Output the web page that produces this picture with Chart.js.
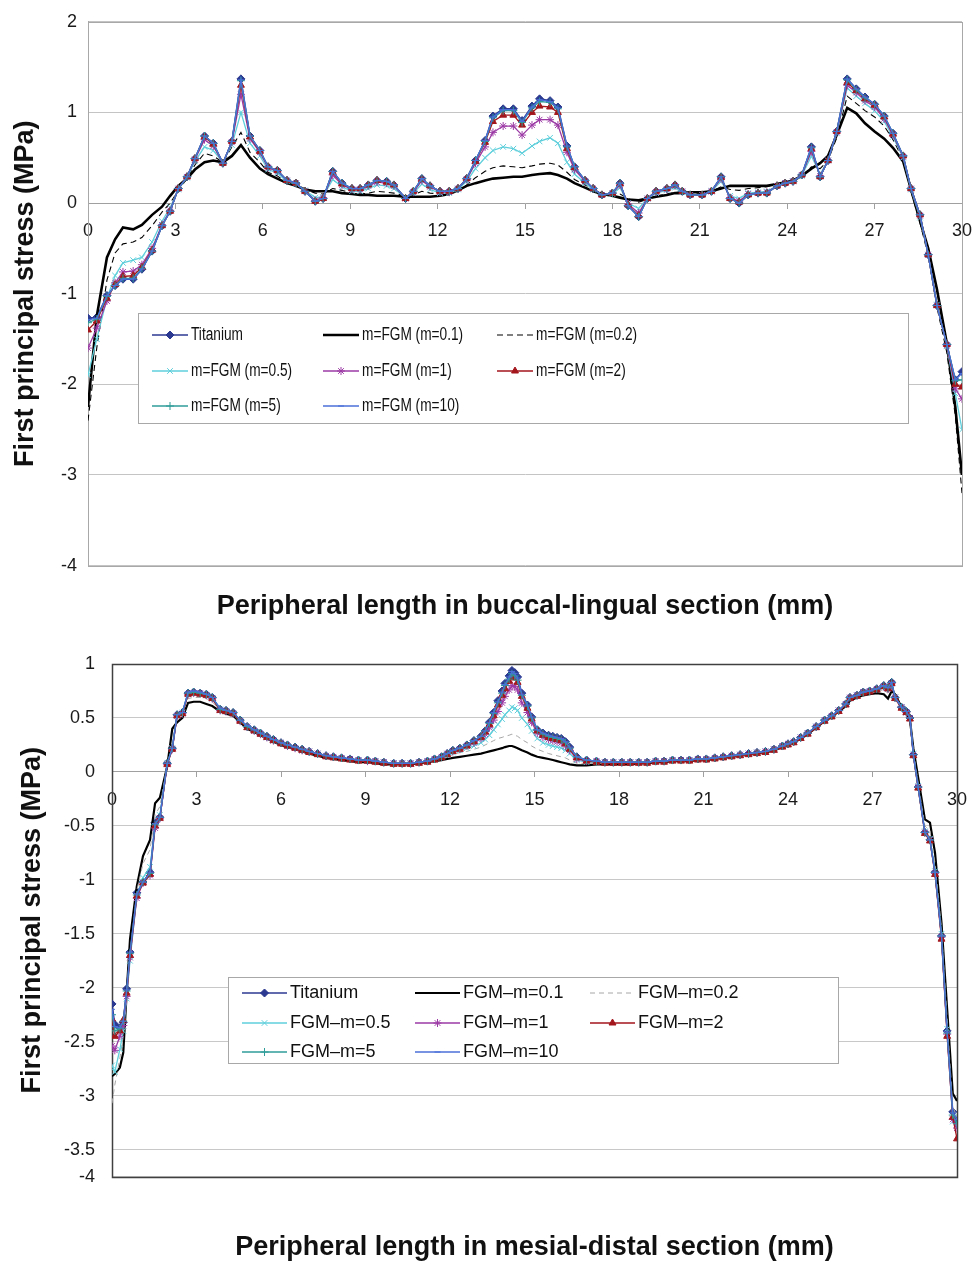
<!DOCTYPE html>
<html>
<head>
<meta charset="utf-8">
<script src="https://cdn.jsdelivr.net/npm/chart.js@4"></script>
<style>
  html, body { margin: 0; padding: 0; background: #fff; }
  canvas { display: block; }
</style>
</head>
<body>
<canvas id="topChart" width="976" height="630"></canvas>
<canvas id="bottomChart" width="976" height="635"></canvas>
<script>
'use strict';

// ---- Buccal-lingual section (top chart) ----
var TOP_NAMES = ['Titanium', 'm=FGM (m=0.1)', 'm=FGM (m=0.2)', 'm=FGM (m=0.5)',
  'm=FGM (m=1)', 'm=FGM (m=2)', 'm=FGM (m=5)', 'm=FGM (m=10)'];

var TOP_X = [
  0, 0.3, 0.65, 0.93, 1.2, 1.55, 1.85, 2.2, 2.54, 2.82,
  3.1, 3.4, 3.67, 4.0, 4.3, 4.63, 4.94, 5.25, 5.56, 5.9,
  6.18, 6.5, 6.83, 7.14, 7.45, 7.8, 8.07, 8.4, 8.72, 9.06,
  9.34, 9.62, 9.92, 10.25, 10.5, 10.9, 11.17, 11.46, 11.74, 12.08,
  12.4, 12.7, 13.0, 13.3, 13.63, 13.9, 14.25, 14.6, 14.9, 15.24,
  15.5, 15.86, 16.13, 16.44, 16.7, 17.06, 17.34, 17.64, 18.0, 18.26,
  18.54, 18.9, 19.2, 19.5, 19.87, 20.15, 20.4, 20.67, 21.08, 21.4,
  21.73, 22.04, 22.35, 22.66, 23.0, 23.3, 23.65, 23.93, 24.2, 24.5,
  24.83, 25.13, 25.4, 25.7, 26.06, 26.37, 26.67, 27.0, 27.33, 27.63,
  27.98, 28.25, 28.56, 28.84, 29.14, 29.48, 29.77, 30.0
];

var TOP_TI = [
  -1.27, -1.26, -1.02, -0.91, -0.84, -0.84, -0.73, -0.53, -0.25, -0.09,
  0.16, 0.29, 0.49, 0.74, 0.66, 0.44, 0.68, 1.37, 0.74, 0.58,
  0.40, 0.36, 0.25, 0.22, 0.13, 0.02, 0.05, 0.35, 0.22, 0.16,
  0.16, 0.20, 0.25, 0.24, 0.20, 0.05, 0.13, 0.27, 0.19, 0.13,
  0.13, 0.16, 0.27, 0.47, 0.69, 0.96, 1.04, 1.04, 0.91, 1.07,
  1.15, 1.13, 1.06, 0.63, 0.40, 0.25, 0.16, 0.09, 0.11, 0.22,
  -0.03, -0.15, 0.05, 0.13, 0.16, 0.20, 0.13, 0.09, 0.09, 0.13,
  0.29, 0.05, 0.00, 0.09, 0.11, 0.11, 0.19, 0.22, 0.24, 0.31,
  0.62, 0.29, 0.47, 0.79, 1.37, 1.26, 1.17, 1.09, 0.96, 0.77,
  0.52, 0.16, -0.13, -0.57, -1.13, -1.56, -1.95, -1.86
];
var TOP_M01 = [
  -2.25, -1.25, -0.60, -0.40, -0.27, -0.29, -0.24, -0.13, -0.04, 0.08,
  0.19, 0.27, 0.37, 0.45, 0.47, 0.45, 0.52, 0.64, 0.50, 0.38,
  0.32, 0.27, 0.22, 0.19, 0.15, 0.13, 0.13, 0.13, 0.11, 0.10,
  0.09, 0.09, 0.08, 0.08, 0.08, 0.07, 0.07, 0.07, 0.07, 0.08,
  0.10, 0.14, 0.19, 0.22, 0.25, 0.27, 0.28, 0.29, 0.29, 0.31,
  0.32, 0.33, 0.31, 0.27, 0.22, 0.17, 0.13, 0.10, 0.08, 0.06,
  0.04, 0.03, 0.05, 0.07, 0.09, 0.11, 0.11, 0.12, 0.12, 0.13,
  0.16, 0.19, 0.19, 0.19, 0.19, 0.19, 0.21, 0.23, 0.25, 0.30,
  0.38, 0.44, 0.52, 0.75, 1.05, 0.99, 0.88, 0.79, 0.71, 0.61,
  0.46, 0.15, -0.20, -0.50, -0.95, -1.55, -2.25, -3.00
];
var TOP_M02 = [
  -2.40, -1.60, -0.85, -0.55, -0.45, -0.43, -0.38, -0.25, -0.10, 0.00,
  0.14, 0.27, 0.42, 0.55, 0.52, 0.45, 0.62, 0.78, 0.56, 0.45,
  0.34, 0.30, 0.22, 0.19, 0.15, 0.11, 0.10, 0.16, 0.14, 0.11,
  0.10, 0.11, 0.13, 0.12, 0.11, 0.08, 0.09, 0.13, 0.11, 0.10,
  0.10, 0.13, 0.20, 0.28, 0.35, 0.39, 0.41, 0.40, 0.39, 0.41,
  0.43, 0.44, 0.42, 0.34, 0.26, 0.20, 0.15, 0.11, 0.09, 0.10,
  0.05, 0.01, 0.04, 0.08, 0.10, 0.12, 0.12, 0.11, 0.11, 0.13,
  0.18, 0.15, 0.14, 0.16, 0.17, 0.18, 0.21, 0.23, 0.25, 0.29,
  0.40, 0.38, 0.47, 0.72, 1.18, 1.10, 1.02, 0.95, 0.85, 0.70,
  0.48, 0.13, -0.22, -0.58, -1.15, -1.65, -2.35, -3.20
];
var TOP_M05 = [
  -1.90, -1.50, -1.05, -0.80, -0.66, -0.63, -0.60, -0.43, -0.20, -0.05,
  0.15, 0.28, 0.46, 0.62, 0.58, 0.45, 0.64, 1.00, 0.66, 0.52,
  0.37, 0.33, 0.24, 0.21, 0.14, 0.06, 0.07, 0.26, 0.18, 0.13,
  0.13, 0.16, 0.20, 0.19, 0.16, 0.06, 0.11, 0.21, 0.15, 0.11,
  0.11, 0.15, 0.24, 0.38, 0.50, 0.58, 0.62, 0.60, 0.55, 0.63,
  0.68, 0.72, 0.66, 0.45, 0.32, 0.22, 0.15, 0.09, 0.10, 0.17,
  0.00, -0.06, 0.05, 0.11, 0.14, 0.17, 0.12, 0.09, 0.09, 0.13,
  0.24, 0.08, 0.05, 0.11, 0.12, 0.13, 0.19, 0.22, 0.24, 0.30,
  0.52, 0.32, 0.47, 0.77, 1.27, 1.18, 1.10, 1.02, 0.90, 0.73,
  0.50, 0.15, -0.16, -0.57, -1.12, -1.58, -2.10, -2.50
];
var TOP_M1 = [
  -1.60, -1.38, -1.08, -0.88, -0.76, -0.75, -0.68, -0.50, -0.24, -0.08,
  0.16, 0.29, 0.48, 0.70, 0.63, 0.44, 0.67, 1.20, 0.71, 0.56,
  0.39, 0.35, 0.25, 0.22, 0.13, 0.03, 0.06, 0.31, 0.20, 0.15,
  0.15, 0.19, 0.23, 0.22, 0.19, 0.05, 0.12, 0.25, 0.18, 0.12,
  0.12, 0.16, 0.26, 0.44, 0.62, 0.78, 0.85, 0.85, 0.75, 0.86,
  0.92, 0.92, 0.86, 0.56, 0.37, 0.24, 0.16, 0.09, 0.11, 0.20,
  -0.01, -0.11, 0.05, 0.12, 0.15, 0.19, 0.13, 0.09, 0.09, 0.13,
  0.27, 0.06, 0.02, 0.10, 0.11, 0.12, 0.19, 0.22, 0.24, 0.31,
  0.57, 0.30, 0.47, 0.78, 1.30, 1.22, 1.13, 1.06, 0.93, 0.75,
  0.51, 0.16, -0.14, -0.57, -1.13, -1.57, -2.05, -2.16
];
var TOP_M2 = [
  -1.40, -1.30, -1.05, -0.90, -0.81, -0.80, -0.71, -0.52, -0.25, -0.09,
  0.16, 0.29, 0.49, 0.73, 0.65, 0.44, 0.68, 1.30, 0.73, 0.57,
  0.40, 0.36, 0.25, 0.22, 0.13, 0.02, 0.05, 0.34, 0.21, 0.16,
  0.16, 0.20, 0.25, 0.23, 0.20, 0.05, 0.13, 0.26, 0.19, 0.13,
  0.13, 0.16, 0.27, 0.46, 0.67, 0.90, 0.97, 0.97, 0.86, 1.00,
  1.07, 1.06, 1.00, 0.60, 0.39, 0.25, 0.16, 0.09, 0.11, 0.21,
  -0.02, -0.14, 0.05, 0.13, 0.16, 0.20, 0.13, 0.09, 0.09, 0.13,
  0.28, 0.05, 0.01, 0.09, 0.11, 0.11, 0.19, 0.22, 0.24, 0.31,
  0.60, 0.29, 0.47, 0.79, 1.33, 1.24, 1.15, 1.08, 0.95, 0.76,
  0.52, 0.16, -0.13, -0.57, -1.13, -1.56, -2.00, -2.03
];
var TOP_M5 = [
  -1.32, -1.28, -1.03, -0.91, -0.83, -0.83, -0.72, -0.53, -0.25, -0.09,
  0.16, 0.29, 0.49, 0.74, 0.66, 0.44, 0.68, 1.35, 0.74, 0.58,
  0.40, 0.36, 0.25, 0.22, 0.13, 0.02, 0.05, 0.35, 0.22, 0.16,
  0.16, 0.20, 0.25, 0.24, 0.20, 0.05, 0.13, 0.27, 0.19, 0.13,
  0.13, 0.16, 0.27, 0.47, 0.68, 0.94, 1.02, 1.02, 0.89, 1.05,
  1.12, 1.11, 1.04, 0.62, 0.40, 0.25, 0.16, 0.09, 0.11, 0.22,
  -0.03, -0.15, 0.05, 0.13, 0.16, 0.20, 0.13, 0.09, 0.09, 0.13,
  0.29, 0.05, 0.00, 0.09, 0.11, 0.11, 0.19, 0.22, 0.24, 0.31,
  0.61, 0.29, 0.47, 0.79, 1.36, 1.25, 1.16, 1.09, 0.96, 0.77,
  0.52, 0.16, -0.13, -0.57, -1.13, -1.56, -1.96, -1.95
];
var TOP_M10 = [
  -1.29, -1.27, -1.02, -0.91, -0.84, -0.84, -0.73, -0.53, -0.25, -0.09,
  0.16, 0.29, 0.49, 0.74, 0.66, 0.44, 0.68, 1.36, 0.74, 0.58,
  0.40, 0.36, 0.25, 0.22, 0.13, 0.02, 0.05, 0.35, 0.22, 0.16,
  0.16, 0.20, 0.25, 0.24, 0.20, 0.05, 0.13, 0.27, 0.19, 0.13,
  0.13, 0.16, 0.27, 0.47, 0.69, 0.95, 1.03, 1.03, 0.90, 1.06,
  1.14, 1.12, 1.05, 0.63, 0.40, 0.25, 0.16, 0.09, 0.11, 0.22,
  -0.03, -0.15, 0.05, 0.13, 0.16, 0.20, 0.13, 0.09, 0.09, 0.13,
  0.29, 0.05, 0.00, 0.09, 0.11, 0.11, 0.19, 0.22, 0.24, 0.31,
  0.62, 0.29, 0.47, 0.79, 1.37, 1.26, 1.17, 1.09, 0.96, 0.77,
  0.52, 0.16, -0.13, -0.57, -1.13, -1.56, -1.95, -1.88
];

// ---- Mesial-distal section (bottom chart) ----
var BOT_NAMES = ['Titanium', 'FGM\u2013m=0.1', 'FGM\u2013m=0.2', 'FGM\u2013m=0.5',
  'FGM\u2013m=1', 'FGM\u2013m=2', 'FGM\u2013m=5', 'FGM\u2013m=10'];

var BOT_X = [
  0, 0.1, 0.28, 0.4, 0.52, 0.64, 0.88, 1.1, 1.35, 1.53,
  1.7, 1.96, 2.14, 2.31, 2.5, 2.7, 2.9, 3.13, 3.35, 3.56,
  3.84, 4.05, 4.3, 4.55, 4.8, 5.05, 5.27, 5.5, 5.73, 6.0,
  6.23, 6.5, 6.75, 7.0, 7.3, 7.6, 7.86, 8.15, 8.45, 8.75,
  9.07, 9.35, 9.65, 10.0, 10.3, 10.6, 10.9, 11.2, 11.45, 11.7,
  11.9, 12.1, 12.35, 12.6, 12.85, 13.1, 13.25, 13.4, 13.55, 13.7,
  13.85, 13.95, 14.1, 14.2, 14.3, 14.4, 14.55, 14.75, 14.9, 15.1,
  15.3, 15.5, 15.65, 15.8, 15.95, 16.1, 16.25, 16.5, 16.85, 17.2,
  17.5, 17.8, 18.1, 18.4, 18.7, 19.0, 19.3, 19.6, 19.9, 20.2,
  20.5, 20.8, 21.1, 21.4, 21.7, 22.0, 22.3, 22.6, 22.9, 23.2,
  23.5, 23.8, 24.0, 24.2, 24.45, 24.7, 25.0, 25.3, 25.55, 25.8,
  26.05, 26.2, 26.45, 26.67, 26.9, 27.15, 27.4, 27.55, 27.68, 27.8,
  28.03, 28.2, 28.33, 28.45, 28.62, 28.86, 29.04, 29.22, 29.45, 29.65,
  29.85, 30.0
];

var BOT_TI = [
  -2.15, -2.34, -2.37, -2.32, -2.01, -1.67, -1.12, -1.02, -0.93, -0.47,
  -0.42, 0.08, 0.22, 0.53, 0.55, 0.73, 0.74, 0.73, 0.72, 0.69,
  0.58, 0.57, 0.55, 0.48, 0.42, 0.39, 0.36, 0.33, 0.30, 0.27,
  0.25, 0.23, 0.21, 0.19, 0.17, 0.15, 0.14, 0.13, 0.12, 0.11,
  0.11, 0.10, 0.09, 0.08, 0.08, 0.08, 0.09, 0.10, 0.12, 0.14,
  0.17, 0.20, 0.22, 0.25, 0.29, 0.33, 0.38, 0.46, 0.55, 0.66,
  0.75, 0.82, 0.89, 0.94, 0.92, 0.88, 0.73, 0.62, 0.51, 0.39,
  0.36, 0.34, 0.33, 0.32, 0.31, 0.28, 0.23, 0.14, 0.11, 0.10,
  0.09, 0.09, 0.09, 0.09, 0.09, 0.09, 0.10, 0.10, 0.11, 0.11,
  0.11, 0.12, 0.12, 0.13, 0.14, 0.15, 0.16, 0.17, 0.18, 0.19,
  0.21, 0.24, 0.26, 0.28, 0.32, 0.36, 0.42, 0.48, 0.52, 0.57,
  0.63, 0.69, 0.71, 0.74, 0.75, 0.77, 0.80, 0.78, 0.83, 0.69,
  0.60, 0.56, 0.50, 0.16, -0.14, -0.56, -0.63, -0.93, -1.52, -2.40,
  -3.15, -3.23
];
var BOT_M01 = [
  -2.82, -2.80, -2.74, -2.60, -2.05, -1.55, -1.06, -0.78, -0.63, -0.29,
  -0.24, 0.05, 0.40, 0.46, 0.50, 0.64, 0.65, 0.65, 0.63, 0.61,
  0.56, 0.54, 0.52, 0.46, 0.40, 0.37, 0.34, 0.31, 0.28, 0.25,
  0.23, 0.21, 0.19, 0.17, 0.15, 0.13, 0.12, 0.11, 0.10, 0.09,
  0.09, 0.08, 0.07, 0.07, 0.07, 0.07, 0.08, 0.09, 0.10, 0.11,
  0.12, 0.13, 0.14, 0.15, 0.16, 0.17, 0.18, 0.19, 0.20, 0.21,
  0.22, 0.23, 0.24, 0.24, 0.23, 0.22, 0.20, 0.18, 0.16, 0.14,
  0.13, 0.12, 0.11, 0.10, 0.09, 0.08, 0.07, 0.06, 0.06, 0.07,
  0.07, 0.07, 0.07, 0.07, 0.08, 0.08, 0.09, 0.09, 0.10, 0.10,
  0.10, 0.11, 0.11, 0.12, 0.13, 0.14, 0.15, 0.16, 0.17, 0.18,
  0.20, 0.23, 0.25, 0.27, 0.31, 0.35, 0.41, 0.47, 0.51, 0.56,
  0.61, 0.66, 0.69, 0.71, 0.72, 0.73, 0.72, 0.68, 0.75, 0.72,
  0.60, 0.54, 0.48, 0.22, -0.05, -0.44, -0.47, -0.75, -1.40, -2.20,
  -2.98, -3.05
];
var BOT_M02 = [
  -3.07, -2.90, -2.65, -2.45, -2.10, -1.70, -1.10, -0.85, -0.72, -0.40,
  -0.32, 0.06, 0.25, 0.50, 0.55, 0.68, 0.69, 0.69, 0.68, 0.65,
  0.57, 0.55, 0.53, 0.47, 0.41, 0.38, 0.35, 0.32, 0.29, 0.26,
  0.24, 0.22, 0.20, 0.18, 0.16, 0.14, 0.13, 0.12, 0.11, 0.10,
  0.10, 0.09, 0.08, 0.08, 0.08, 0.08, 0.09, 0.10, 0.11, 0.12,
  0.14, 0.16, 0.18, 0.19, 0.21, 0.23, 0.25, 0.27, 0.29, 0.31,
  0.32, 0.33, 0.34, 0.35, 0.34, 0.33, 0.30, 0.27, 0.24, 0.21,
  0.19, 0.17, 0.16, 0.15, 0.14, 0.13, 0.11, 0.08, 0.08, 0.08,
  0.08, 0.08, 0.08, 0.08, 0.08, 0.08, 0.09, 0.09, 0.10, 0.10,
  0.10, 0.11, 0.11, 0.12, 0.13, 0.14, 0.15, 0.16, 0.17, 0.18,
  0.20, 0.23, 0.25, 0.27, 0.31, 0.35, 0.41, 0.47, 0.51, 0.56,
  0.62, 0.67, 0.70, 0.72, 0.73, 0.75, 0.76, 0.73, 0.79, 0.71,
  0.60, 0.55, 0.49, 0.19, -0.10, -0.50, -0.55, -0.85, -1.45, -2.30,
  -3.10, -3.20
];
var BOT_M05 = [
  -2.72, -2.78, -2.57, -2.40, -2.10, -1.75, -1.15, -0.98, -0.88, -0.50,
  -0.40, 0.08, 0.22, 0.52, 0.55, 0.72, 0.73, 0.72, 0.71, 0.68,
  0.58, 0.56, 0.54, 0.48, 0.42, 0.38, 0.35, 0.32, 0.29, 0.27,
  0.24, 0.22, 0.20, 0.19, 0.17, 0.15, 0.14, 0.13, 0.12, 0.11,
  0.10, 0.10, 0.09, 0.08, 0.08, 0.08, 0.09, 0.10, 0.11, 0.13,
  0.16, 0.18, 0.20, 0.22, 0.24, 0.27, 0.30, 0.34, 0.39, 0.44,
  0.49, 0.53, 0.57, 0.60, 0.59, 0.57, 0.50, 0.44, 0.38, 0.31,
  0.27, 0.25, 0.24, 0.23, 0.22, 0.20, 0.17, 0.11, 0.09, 0.09,
  0.09, 0.09, 0.09, 0.09, 0.09, 0.09, 0.10, 0.10, 0.11, 0.11,
  0.11, 0.12, 0.12, 0.13, 0.14, 0.15, 0.16, 0.17, 0.18, 0.19,
  0.21, 0.24, 0.26, 0.28, 0.32, 0.36, 0.42, 0.47, 0.52, 0.57,
  0.63, 0.68, 0.71, 0.74, 0.75, 0.77, 0.79, 0.77, 0.82, 0.69,
  0.60, 0.55, 0.50, 0.17, -0.13, -0.55, -0.62, -0.92, -1.50, -2.38,
  -3.24, -3.30
];
var BOT_M1 = [
  -2.54, -2.58, -2.45, -2.35, -2.08, -1.72, -1.17, -1.03, -0.96, -0.52,
  -0.43, 0.07, 0.21, 0.52, 0.54, 0.72, 0.73, 0.73, 0.71, 0.68,
  0.57, 0.56, 0.54, 0.47, 0.42, 0.38, 0.35, 0.32, 0.29, 0.27,
  0.24, 0.22, 0.20, 0.19, 0.17, 0.15, 0.14, 0.13, 0.12, 0.11,
  0.10, 0.10, 0.09, 0.08, 0.08, 0.08, 0.09, 0.10, 0.12, 0.14,
  0.17, 0.19, 0.21, 0.24, 0.27, 0.31, 0.35, 0.41, 0.48, 0.56,
  0.64, 0.70, 0.76, 0.80, 0.79, 0.76, 0.64, 0.55, 0.46, 0.36,
  0.32, 0.30, 0.29, 0.28, 0.27, 0.24, 0.20, 0.12, 0.10, 0.10,
  0.09, 0.09, 0.09, 0.09, 0.09, 0.09, 0.10, 0.10, 0.11, 0.11,
  0.11, 0.12, 0.12, 0.13, 0.14, 0.15, 0.16, 0.17, 0.18, 0.19,
  0.21, 0.24, 0.26, 0.28, 0.32, 0.36, 0.42, 0.48, 0.52, 0.57,
  0.63, 0.69, 0.71, 0.74, 0.75, 0.77, 0.79, 0.77, 0.82, 0.69,
  0.60, 0.55, 0.50, 0.16, -0.14, -0.56, -0.63, -0.94, -1.53, -2.43,
  -3.22, -3.30
];
var BOT_M2 = [
  -2.29, -2.45, -2.40, -2.30, -2.05, -1.70, -1.15, -1.03, -0.95, -0.50,
  -0.43, 0.07, 0.21, 0.52, 0.54, 0.72, 0.73, 0.72, 0.71, 0.68,
  0.57, 0.56, 0.54, 0.47, 0.41, 0.38, 0.35, 0.32, 0.29, 0.26,
  0.24, 0.22, 0.20, 0.18, 0.16, 0.14, 0.13, 0.12, 0.11, 0.10,
  0.10, 0.09, 0.08, 0.07, 0.07, 0.07, 0.08, 0.09, 0.11, 0.13,
  0.16, 0.19, 0.21, 0.24, 0.28, 0.32, 0.37, 0.44, 0.52, 0.62,
  0.71, 0.77, 0.84, 0.88, 0.87, 0.83, 0.70, 0.59, 0.49, 0.38,
  0.34, 0.32, 0.31, 0.30, 0.29, 0.26, 0.21, 0.13, 0.10, 0.09,
  0.08, 0.08, 0.08, 0.08, 0.08, 0.08, 0.09, 0.09, 0.10, 0.10,
  0.10, 0.11, 0.11, 0.12, 0.13, 0.14, 0.15, 0.16, 0.17, 0.18,
  0.20, 0.23, 0.25, 0.27, 0.31, 0.35, 0.41, 0.47, 0.51, 0.56,
  0.62, 0.68, 0.70, 0.73, 0.74, 0.76, 0.79, 0.77, 0.82, 0.68,
  0.59, 0.55, 0.49, 0.15, -0.15, -0.57, -0.64, -0.95, -1.55, -2.45,
  -3.20, -3.40
];
var BOT_M5 = [
  -2.25, -2.40, -2.38, -2.31, -2.03, -1.68, -1.14, -1.02, -0.94, -0.49,
  -0.42, 0.08, 0.22, 0.53, 0.55, 0.73, 0.74, 0.73, 0.72, 0.69,
  0.58, 0.57, 0.55, 0.48, 0.42, 0.39, 0.36, 0.33, 0.30, 0.27,
  0.25, 0.23, 0.21, 0.19, 0.17, 0.15, 0.14, 0.13, 0.12, 0.11,
  0.11, 0.10, 0.09, 0.08, 0.08, 0.08, 0.09, 0.10, 0.12, 0.14,
  0.17, 0.20, 0.22, 0.25, 0.29, 0.33, 0.38, 0.45, 0.54, 0.64,
  0.73, 0.80, 0.86, 0.91, 0.89, 0.85, 0.71, 0.61, 0.50, 0.39,
  0.35, 0.33, 0.32, 0.31, 0.30, 0.27, 0.22, 0.14, 0.11, 0.10,
  0.09, 0.09, 0.09, 0.09, 0.09, 0.09, 0.10, 0.10, 0.11, 0.11,
  0.11, 0.12, 0.12, 0.13, 0.14, 0.15, 0.16, 0.17, 0.18, 0.19,
  0.21, 0.24, 0.26, 0.28, 0.32, 0.36, 0.42, 0.48, 0.52, 0.57,
  0.63, 0.69, 0.71, 0.74, 0.75, 0.77, 0.80, 0.78, 0.83, 0.69,
  0.60, 0.56, 0.50, 0.16, -0.14, -0.56, -0.63, -0.93, -1.52, -2.42,
  -3.18, -3.26
];
var BOT_M10 = [
  -2.20, -2.36, -2.37, -2.31, -2.02, -1.67, -1.13, -1.02, -0.93, -0.48,
  -0.42, 0.08, 0.22, 0.53, 0.55, 0.74, 0.75, 0.74, 0.72, 0.69,
  0.59, 0.57, 0.55, 0.48, 0.43, 0.39, 0.36, 0.33, 0.30, 0.27,
  0.25, 0.23, 0.21, 0.19, 0.17, 0.15, 0.14, 0.13, 0.12, 0.11,
  0.11, 0.10, 0.09, 0.08, 0.08, 0.08, 0.09, 0.10, 0.12, 0.14,
  0.17, 0.20, 0.22, 0.25, 0.29, 0.33, 0.38, 0.46, 0.55, 0.65,
  0.74, 0.81, 0.88, 0.93, 0.91, 0.87, 0.72, 0.62, 0.51, 0.39,
  0.36, 0.34, 0.33, 0.32, 0.31, 0.28, 0.23, 0.14, 0.11, 0.10,
  0.09, 0.09, 0.09, 0.09, 0.09, 0.09, 0.10, 0.10, 0.11, 0.11,
  0.11, 0.12, 0.12, 0.13, 0.14, 0.15, 0.16, 0.17, 0.18, 0.19,
  0.21, 0.24, 0.26, 0.28, 0.32, 0.36, 0.42, 0.48, 0.52, 0.57,
  0.63, 0.69, 0.71, 0.74, 0.75, 0.77, 0.80, 0.78, 0.83, 0.69,
  0.60, 0.56, 0.50, 0.16, -0.14, -0.56, -0.63, -0.93, -1.52, -2.41,
  -3.16, -3.22
];

// y ticks of the lower chart; its plot area stops at -3.75, where the picture prints "-4"
var BOT_Y_TICKS = [1, 0.5, 0, -0.5, -1, -1.5, -2, -2.5, -3, -3.5, -3.75];

var FONT = '"Liberation Sans", Arial, Helvetica, sans-serif';
Chart.defaults.font.family = FONT;

// Line / marker looks, Excel 2003 style
var STYLES = [
  {color: '#2B3990', width: 1.5, point: 'rectRot', radius: 4},
  {color: '#000000', width: 2.6, point: false, radius: 0},
  {color: '#000000', width: 1.1, dash: [6, 4], point: false, radius: 0},
  {color: '#5FCFDB', width: 1.3, point: 'crossRot', radius: 4},
  {color: '#9C3AA5', width: 1.3, point: 'star', radius: 4},
  {color: '#A3161C', width: 1.3, point: 'triangle', radius: 4},
  {color: '#2E9C98', width: 1.3, point: 'cross', radius: 4},
  {color: '#4A6FD8', width: 1.3, point: 'line', radius: 3}
];

var buildDatasets = function(names, xs, series, styles) {
  return series.map(function(ys, i) {
    var st = styles[i];
    return {
      label: names[i],
      data: xs.map(function(x, k) { return {x: x, y: ys[k]}; }),
      borderColor: st.color,
      backgroundColor: st.color,
      pointBackgroundColor: st.color,
      pointBorderColor: st.color,
      borderWidth: st.width,
      borderDash: st.dash || [],
      pointStyle: st.point,
      pointRadius: st.radius,
      pointBorderWidth: 1,
      tension: 0,
      fill: false,
      // last series on top, as in Excel
      order: series.length - i
    };
  });
};

// Grey or dark frame round the plot area
var plotFrame = {
  id: 'plotFrame',
  beforeDatasetsDraw: function(chart, args, o) {
    var a = chart.chartArea, ctx = chart.ctx;
    ctx.save();
    ctx.strokeStyle = o.color;
    ctx.lineWidth = o.width;
    ctx.strokeRect(Math.round(a.left) + 0.5, Math.round(a.top) + 0.5,
      Math.round(a.right - a.left), Math.round(a.bottom - a.top));
    ctx.restore();
  }
};

// Boxed three-column legend inside the plot, like the Excel one
var boxLegend = {
  id: 'boxLegend',
  afterDatasetsDraw: function(chart, args, o) {
    var ctx = chart.ctx;
    var drawPoint = Chart.helpers && Chart.helpers.drawPoint;
    ctx.save();
    ctx.fillStyle = '#ffffff';
    ctx.fillRect(o.x, o.y, o.w, o.h);
    ctx.strokeStyle = '#a8a8a8';
    ctx.lineWidth = 1;
    ctx.strokeRect(o.x + 0.5, o.y + 0.5, o.w, o.h);
    ctx.font = o.fontSize + 'px ' + FONT;
    ctx.textBaseline = 'middle';
    ctx.textAlign = 'left';
    chart.data.datasets.forEach(function(ds, i) {
      var x = o.cols[i % 3], y = o.rows[Math.floor(i / 3)];
      ctx.save();
      ctx.strokeStyle = ds.borderColor;
      ctx.lineWidth = ds.borderWidth;
      ctx.setLineDash(ds.borderDash || []);
      ctx.beginPath();
      ctx.moveTo(x, y);
      ctx.lineTo(x + o.lineLen, y);
      ctx.stroke();
      ctx.restore();
      if (ds.pointRadius > 0 && drawPoint) {
        ctx.save();
        ctx.fillStyle = ds.pointBackgroundColor;
        ctx.strokeStyle = ds.pointBorderColor;
        ctx.lineWidth = 1;
        drawPoint(ctx, {pointStyle: ds.pointStyle, radius: ds.pointRadius, rotation: 0, borderWidth: 1},
          x + o.lineLen / 2, y);
        ctx.restore();
      }
      // the top legend is set in a condensed face
      ctx.save();
      ctx.translate(x + o.lineLen + o.gap, y);
      ctx.scale(o.stretch || 1, 1);
      ctx.fillStyle = '#111111';
      ctx.fillText(ds.label, 0, 0);
      ctx.restore();
    });
    ctx.restore();
  }
};

var tickFont = {size: 18, family: FONT};
var titleFont = {size: 27, weight: 'bold', family: FONT};

// x axis drawn through y = 0; no extra side padding for its end labels
var noSidePad = function(s) { s.paddingLeft = 0; s.paddingRight = 0; };

// ---- top chart ----
new Chart(document.getElementById('topChart'), {
  type: 'line',
  data: {
    datasets: buildDatasets(TOP_NAMES, TOP_X,
      [TOP_TI, TOP_M01, TOP_M02, TOP_M05, TOP_M1, TOP_M2, TOP_M5, TOP_M10], STYLES)
  },
  options: {
    responsive: false,
    animation: false,
    events: [],
    layout: {padding: {left: 0, right: 14, top: 17, bottom: 0}},
    scales: {
      x: {
        type: 'linear', min: 0, max: 30, position: {y: 0},
        ticks: {stepSize: 3, color: '#1a1a1a', font: tickFont, padding: 12, maxRotation: 0, autoSkip: false},
        grid: {drawOnChartArea: false, drawTicks: true, tickLength: 5, color: '#a0a0a0'},
        border: {display: true, color: '#a0a0a0', width: 1},
        afterFit: noSidePad
      },
      y: {
        type: 'linear', min: -4, max: 2,
        ticks: {stepSize: 1, color: '#1a1a1a', font: tickFont, padding: 11},
        grid: {color: '#c4c4c4', drawTicks: false},
        border: {display: true, color: '#a8a8a8'},
        title: {display: true, text: 'First principal stress (MPa)', font: titleFont,
          color: '#111111', padding: {top: 9, bottom: 0}},
        afterFit: function(s) { s.width = 88; }
      }
    },
    plugins: {
      legend: {display: false},
      tooltip: {enabled: false},
      title: {display: true, position: 'bottom', fullSize: false,
        text: 'Peripheral length in buccal-lingual section (mm)',
        font: titleFont, color: '#111111', padding: {top: 25, bottom: 7}},
      plotFrame: {color: '#a8a8a8', width: 1},
      boxLegend: {x: 138, y: 313, w: 770, h: 110, cols: [152, 323, 497], rows: [335, 371, 406],
        lineLen: 36, gap: 3, fontSize: 18, stretch: 0.76}
    }
  },
  plugins: [plotFrame, boxLegend]
});

// ---- bottom chart ----
var botStyles = STYLES.slice();
botStyles[1] = {color: '#000000', width: 2.2, point: false, radius: 0};
botStyles[2] = {color: '#a6a6a6', width: 1, dash: [5, 4], point: false, radius: 0};

new Chart(document.getElementById('bottomChart'), {
  type: 'line',
  data: {
    datasets: buildDatasets(BOT_NAMES, BOT_X,
      [BOT_TI, BOT_M01, BOT_M02, BOT_M05, BOT_M1, BOT_M2, BOT_M5, BOT_M10], botStyles)
  },
  options: {
    responsive: false,
    animation: false,
    events: [],
    layout: {padding: {left: 0, right: 19, top: 34, bottom: 0}},
    scales: {
      x: {
        type: 'linear', min: 0, max: 30, position: {y: 0},
        ticks: {stepSize: 3, color: '#1a1a1a', font: tickFont, padding: 12, maxRotation: 0, autoSkip: false},
        grid: {drawOnChartArea: false, drawTicks: true, tickLength: 5, color: '#a0a0a0'},
        border: {display: true, color: '#a0a0a0', width: 1},
        afterFit: noSidePad
      },
      y: {
        type: 'linear', min: -3.75, max: 1,
        afterBuildTicks: function(s) {
          s.ticks = BOT_Y_TICKS.map(function(v) { return {value: v}; });
        },
        ticks: {color: '#1a1a1a', font: tickFont, padding: 17,
          callback: function(v) { return v === -3.75 ? '-4' : String(v); }},
        grid: {color: '#c8c8c8', drawTicks: false},
        border: {display: true, color: '#404040'},
        title: {display: true, text: 'First principal stress (MPa)', font: titleFont,
          color: '#111111', padding: {top: 16, bottom: 0}},
        afterFit: function(s) { s.width = 112; }
      }
    },
    plugins: {
      legend: {display: false},
      tooltip: {enabled: false},
      title: {display: true, position: 'bottom', fullSize: false,
        text: 'Peripheral length in mesial-distal section (mm)',
        font: titleFont, color: '#111111', padding: {top: 55, bottom: 1}},
      plotFrame: {color: '#404040', width: 1.5},
      boxLegend: {x: 228, y: 347, w: 610, h: 86, cols: [242, 415, 590], rows: [363, 393, 422],
        lineLen: 45, gap: 3, fontSize: 18}
    }
  },
  plugins: [plotFrame, boxLegend]
});
</script>
</body>
</html>
